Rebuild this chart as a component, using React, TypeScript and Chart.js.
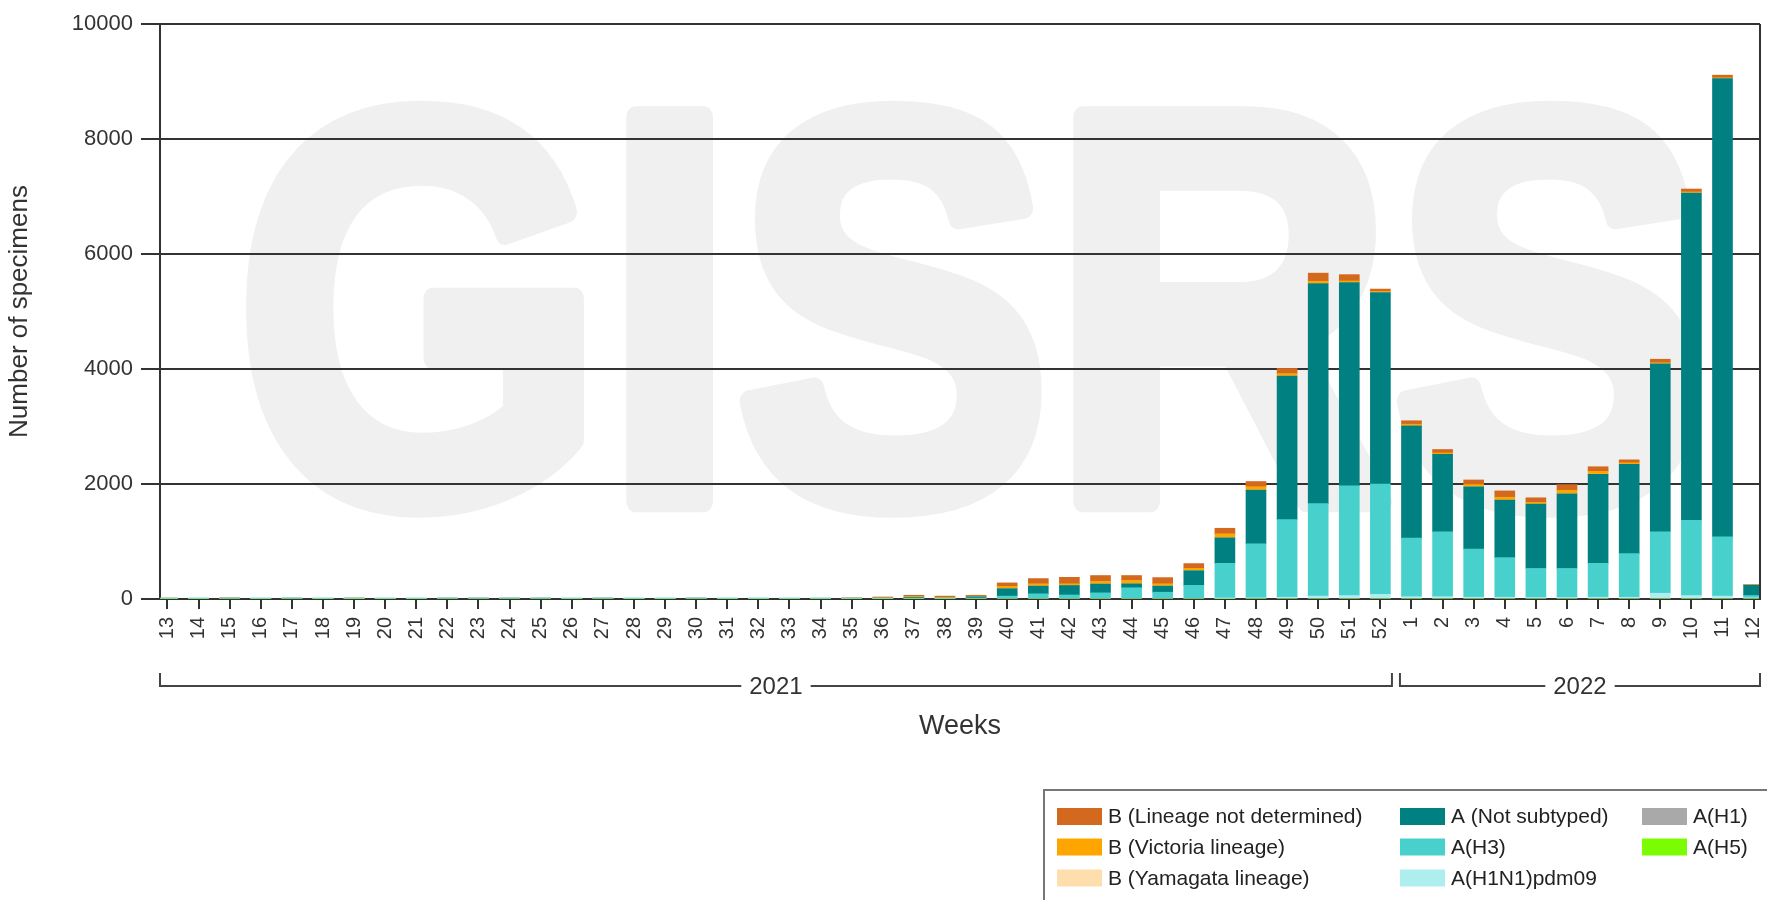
import React, { useEffect, useRef } from 'react';
import { Chart, registerables } from 'chart.js';

Chart.register(...registerables);

// ---------- data ----------
const WEEKS = [
  '13', '14', '15', '16', '17', '18', '19', '20', '21', '22', '23', '24', '25', '26', '27', '28', '29', '30',
  '31', '32', '33', '34', '35', '36', '37', '38', '39', '40', '41', '42', '43', '44', '45', '46', '47', '48',
  '49', '50', '51', '52', '1', '2', '3', '4', '5', '6', '7', '8', '9', '10', '11', '12',
];
const YEARS = ['2021', '2022'];
const WEEKS_PER_YEAR = [40, 12];

const A_H5 = [
  0, 0, 0, 0, 0, 0, 0, 0, 0, 0, 0, 0, 0, 0, 0, 0, 0, 0, 0, 0, 0, 0, 0, 0, 0, 0,
  0, 0, 0, 0, 0, 0, 0, 0, 0, 0, 0, 0, 0, 0, 0, 0, 0, 0, 0, 0, 0, 0, 0, 0, 0, 0,
];
const A_H1 = [
  0, 0, 0, 0, 0, 0, 0, 0, 0, 0, 0, 0, 0, 0, 0, 0, 0, 0, 0, 0, 0, 0, 0, 0, 0, 0,
  0, 0, 0, 0, 0, 0, 0, 0, 0, 0, 0, 0, 0, 0, 0, 0, 0, 0, 0, 0, 0, 0, 0, 0, 0, 0,
];
const A_H1N1PDM09 = [
  0, 0, 0, 0, 0, 0, 0, 0, 0, 0, 0, 0, 0, 0, 0, 0, 0, 0, 0, 0, 0, 0, 0, 0, 0, 0,
  0, 0, 0, 0, 0, 0, 0, 0, 10, 20, 30, 50, 60, 80, 40, 40, 30, 30, 25, 25, 30, 30, 100, 60, 50, 20,
];
const A_H3 = [
  1, 1, 0, 1, 0, 1, 1, 1, 1, 0, 0, 0, 0, 1, 0, 1, 1, 0, 1, 1, 1, 2, 3,
  5, 10, 5, 15, 50, 90, 70, 107, 195, 118, 237, 610, 940, 1350, 1610, 1910, 1920,
  1020, 1130, 840, 690, 505, 505, 590, 760, 1070, 1310, 1030, 40,
];
const A_NOT_SUBTYPED = [
  2, 1, 2, 1, 1, 2, 2, 3, 2, 2, 1, 1, 1, 2, 1, 2, 2, 1, 2, 2, 3, 3, 4,
  5, 20, 10, 25, 130, 135, 165, 154, 70, 107, 255, 444, 935, 2495, 3827, 3531, 3328,
  1950, 1344, 1080, 1000, 1120, 1300, 1550, 1550, 2920, 5690, 7970, 180,
];
const B_YAMAGATA = [
  0, 0, 0, 0, 0, 0, 0, 0, 0, 0, 0, 0, 0, 0, 0, 0, 0, 0, 0, 0, 0, 0, 0, 0, 0, 0,
  0, 0, 0, 0, 0, 0, 0, 0, 0, 0, 0, 0, 0, 0, 0, 0, 0, 0, 0, 0, 0, 0, 0, 0, 0, 0,
];
const B_VICTORIA = [
  4, 3, 5, 3, 2, 3, 5, 1, 1, 0, 0, 0, 1, 1, 0, 0, 1, 1, 1, 2, 2, 3, 5,
  10, 15, 15, 10, 40, 40, 30, 47, 60, 40, 41, 71, 59, 45, 40, 30, 22,
  30, 26, 40, 50, 30, 60, 50, 30, 20, 20, 15, 0,
];
const B_LINEAGE_ND = [
  8, 6, 8, 5, 4, 6, 10, 3, 2, 2, 1, 1, 2, 2, 1, 1, 2, 3, 2, 3, 4, 5, 8,
  15, 20, 20, 15, 60, 90, 112, 100, 83, 107, 83, 95, 89, 90, 140, 110, 40,
  60, 60, 80, 110, 80, 100, 80, 50, 60, 50, 45, 10,
];

const Y_TICKS = [0, 2000, 4000, 6000, 8000, 10000];

// ---------- style ----------
const FONT = "'Liberation Sans', Arial, Helvetica, sans-serif";
const TEXT = '#333333';
const LINE = '#333333';

const SERIES = [
  { key: 'h5', label: 'A(H5)', data: A_H5, color: '#7CFC00' },
  { key: 'h1', label: 'A(H1)', data: A_H1, color: '#A9A9A9' },
  { key: 'pdm', label: 'A(H1N1)pdm09', data: A_H1N1PDM09, color: '#AFEEEE' },
  { key: 'h3', label: 'A(H3)', data: A_H3, color: '#48D1CC' },
  { key: 'ns', label: 'A (Not subtyped)', data: A_NOT_SUBTYPED, color: '#008080' },
  { key: 'yam', label: 'B (Yamagata lineage)', data: B_YAMAGATA, color: '#FFDEAD' },
  { key: 'vic', label: 'B (Victoria lineage)', data: B_VICTORIA, color: '#FFA500' },
  { key: 'lnd', label: 'B (Lineage not determined)', data: B_LINEAGE_ND, color: '#D2691E' },
];

// legend layout: columns of series keys
const LEGEND_COLUMNS = [
  ['lnd', 'vic', 'yam'],
  ['ns', 'h3', 'pdm'],
  ['h1', 'h5'],
];

const overlayPlugin = {
  id: 'overlay',
  beforeDraw(chart: any) {
    const { ctx, chartArea } = chart;
    const w = chartArea.right - chartArea.left;
    const h = chartArea.bottom - chartArea.top;
    ctx.save();
    ctx.fillStyle = '#ffffff';
    ctx.fillRect(0, 0, chart.width, chart.height);
    // watermark
    ctx.fillStyle = '#f0f0f0';
    ctx.strokeStyle = '#f0f0f0';
    ctx.lineWidth = 22;
    ctx.lineJoin = 'round';
    ctx.font = `bold ${Math.round(h * 0.97)}px ${FONT}`;
    ctx.textAlign = 'center';
    ctx.textBaseline = 'alphabetic';
    const cx = chartArea.left + w * 0.5075;
    const by = chartArea.top + h * 0.83;
    ctx.fillText('GISRS', cx, by, w * 0.92);
    ctx.strokeText('GISRS', cx, by, w * 0.92);
    ctx.restore();
  },
  afterDraw(chart: any) {
    const { ctx, chartArea } = chart;
    const xs = chart.scales.x;
    ctx.save();
    // right frame line
    ctx.strokeStyle = LINE;
    ctx.lineWidth = 2;
    ctx.beginPath();
    ctx.moveTo(chartArea.right, chartArea.top);
    ctx.lineTo(chartArea.right, chartArea.bottom);
    ctx.stroke();

    // year brackets
    const lineY = chartArea.bottom + 87;
    const tickTop = lineY - 13;
    ctx.font = `24px ${FONT}`;
    ctx.textAlign = 'center';
    ctx.textBaseline = 'middle';
    let start = 0;
    YEARS.forEach((yr, i) => {
      const end = start + WEEKS_PER_YEAR[i] - 1;
      const x0 = i === 0 ? chartArea.left : (xs.getPixelForValue(start - 1) + xs.getPixelForValue(start)) / 2 + 4;
      const x1 = i === YEARS.length - 1 ? chartArea.right : (xs.getPixelForValue(end) + xs.getPixelForValue(end + 1)) / 2 - 4;
      const cx = (x0 + x1) / 2;
      const tw = ctx.measureText(yr).width;
      ctx.strokeStyle = '#444';
      ctx.lineWidth = 2;
      ctx.beginPath();
      ctx.moveTo(x0, tickTop);
      ctx.lineTo(x0, lineY);
      ctx.lineTo(cx - tw / 2 - 8, lineY);
      ctx.moveTo(cx + tw / 2 + 8, lineY);
      ctx.lineTo(x1, lineY);
      ctx.lineTo(x1, tickTop);
      ctx.stroke();
      ctx.fillStyle = TEXT;
      ctx.fillText(yr, cx, lineY + 1);
      start = end + 1;
    });

    // x title
    ctx.font = `27px ${FONT}`;
    ctx.fillStyle = TEXT;
    ctx.fillText('Weeks', (chartArea.left + chartArea.right) / 2, chartArea.bottom + 128);

    // legend
    const boxX = 1044;
    const boxY = 790;
    ctx.strokeStyle = '#777';
    ctx.lineWidth = 2;
    ctx.strokeRect(boxX, boxY, 900, 300);
    const colX = [1057, 1400, 1642];
    const rowY = [816.5, 847, 878];
    ctx.font = `21px ${FONT}`;
    ctx.textAlign = 'left';
    ctx.textBaseline = 'middle';
    LEGEND_COLUMNS.forEach((col, ci) => {
      col.forEach((key, ri) => {
        const s = SERIES.find((d) => d.key === key)!;
        ctx.fillStyle = s.color;
        ctx.fillRect(colX[ci], rowY[ri] - 8.5, 45, 17);
        ctx.fillStyle = '#222';
        ctx.fillText(s.label, colX[ci] + 51, rowY[ri] + 1);
      });
    });
    ctx.restore();
  },
};

export default function App() {
  const canvasRef = useRef<HTMLCanvasElement | null>(null);

  useEffect(() => {
    const canvas = canvasRef.current;
    if (!canvas) return;
    const chart = new Chart(canvas, {
      type: 'bar',
      data: {
        datasets: SERIES.map((s) => ({
          label: s.label,
          data: WEEKS.map((_, i) => ({ x: i, y: s.data[i] })),
          backgroundColor: s.color,
          borderWidth: 0,
          barThickness: 20,
        })),
      },
      plugins: [overlayPlugin],
      options: {
        responsive: false,
        animation: false,
        devicePixelRatio: 1,
        layout: { padding: { top: 24, right: 7, bottom: 0, left: 0 } },
        plugins: {
          legend: { display: false },
          tooltip: { enabled: false },
          title: { display: false },
        },
        scales: {
          x: {
            type: 'linear',
            stacked: true,
            offset: false,
            min: -0.241,
            max: 51.206,
            grid: {
              display: true,
              offset: false,
              drawOnChartArea: false,
              drawTicks: true,
              tickLength: 10,
              color: LINE,
              lineWidth: 2,
            },
            border: { display: true, color: LINE, width: 2 },
            ticks: {
              stepSize: 1,
              maxTicksLimit: 200,
              autoSkip: false,
              includeBounds: false,
              minRotation: 90,
              maxRotation: 90,
              padding: 8,
              color: TEXT,
              font: { family: FONT, size: 20 },
              callback: (v: any) => (Number.isInteger(v) ? WEEKS[v] ?? '' : ''),
            },
            afterFit: (scale: any) => {
              scale.height = 301;
              scale.paddingLeft = 0;
              scale.paddingRight = 0;
            },
          },
          y: {
            stacked: true,
            min: 0,
            max: 10000,
            grid: {
              color: LINE,
              lineWidth: 2,
              tickLength: 19,
            },
            border: { display: true, color: LINE, width: 2 },
            ticks: {
              stepSize: 2000,
              padding: 8,
              color: TEXT,
              font: { family: FONT, size: 22 },
              callback: (v: any) => (Y_TICKS.includes(v) ? String(v) : ''),
            },
            title: {
              display: true,
              text: 'Number of specimens',
              color: TEXT,
              font: { family: FONT, size: 26 },
              padding: { top: 4, bottom: 0 },
            },
            afterFit: (scale: any) => {
              scale.width = 160;
              scale.paddingTop = 0;
              scale.paddingBottom = 0;
            },
          },
        },
      },
    } as any);
    return () => chart.destroy();
  }, []);

  return (
    <div style={{ position: 'absolute', left: 0, top: 0, width: 1767, height: 900, background: '#fff' }}>
      <canvas ref={canvasRef} width={1767} height={900} style={{ width: 1767, height: 900, display: 'block' }} />
    </div>
  );
}
